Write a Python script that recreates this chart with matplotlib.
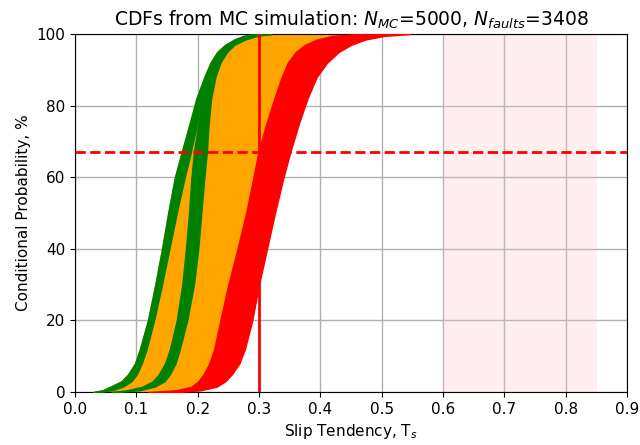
import matplotlib
matplotlib.use('Agg')
import matplotlib.pyplot as plt

levels = [0, 0.5, 1.5, 3, 5, 8, 12, 20, 30, 40, 50, 60, 67, 75, 82, 88, 92, 95, 97, 98.5, 99.5, 100]

# slip tendency of each envelope edge at those levels
green1_lo = [0.030, 0.045, 0.058, 0.076, 0.087, 0.098, 0.106, 0.119, 0.131, 0.142, 0.152,
             0.163, 0.174, 0.187, 0.198, 0.211, 0.221, 0.232, 0.245, 0.260, 0.275, 0.290]
green1_hi = [0.040, 0.060, 0.078, 0.092, 0.101, 0.109, 0.117, 0.129, 0.142, 0.154, 0.166,
             0.179, 0.189, 0.199, 0.207, 0.216, 0.226, 0.238, 0.250, 0.266, 0.282, 0.300]
green2_lo = [0.060, 0.085, 0.110, 0.127, 0.137, 0.147, 0.155, 0.166, 0.175, 0.181, 0.186,
             0.190, 0.194, 0.201, 0.208, 0.218, 0.227, 0.238, 0.250, 0.266, 0.284, 0.305]
green2_hi = [0.070, 0.105, 0.130, 0.146, 0.155, 0.164, 0.171, 0.183, 0.194, 0.201, 0.206,
             0.211, 0.215, 0.218, 0.222, 0.229, 0.237, 0.248, 0.260, 0.278, 0.298, 0.320]
red_lo = [0.120, 0.165, 0.190, 0.201, 0.210, 0.219, 0.227, 0.237, 0.250, 0.265, 0.279,
          0.291, 0.299, 0.312, 0.325, 0.337, 0.347, 0.360, 0.375, 0.395, 0.420, 0.460]
red_hi = [0.170, 0.205, 0.231, 0.245, 0.256, 0.268, 0.277, 0.289, 0.300, 0.313, 0.326,
          0.340, 0.351, 0.365, 0.379, 0.394, 0.411, 0.430, 0.450, 0.474, 0.505, 0.546]

n_mc = 5000
n_faults = 3408
ts_threshold = 0.3
prob_threshold = 67
span_lo, span_hi = 0.6, 0.85

fig = plt.figure(figsize=(6.4, 4.45), dpi=100)
ax = fig.add_axes([0.117, 0.119, 0.863, 0.8045])

ax.axvspan(span_lo, span_hi, color='pink', alpha=0.25, lw=0, zorder=1)

# envelopes of the MC CDF bundles
ax.fill_betweenx(levels, green1_lo, red_lo, color='orange', lw=1, zorder=2)
ax.fill_betweenx(levels, red_lo, red_hi, color='red', lw=1, zorder=3)
ax.fill_betweenx(levels, green1_lo, green1_hi, color='green', lw=1, zorder=4)
ax.fill_betweenx(levels, green2_lo, green2_hi, color='green', lw=1, zorder=4)

ax.plot([ts_threshold, ts_threshold], [0, 100], color='red', lw=2, zorder=5)
ax.axhline(prob_threshold, color='red', ls='--', lw=2, zorder=5)

ax.set_xlim(0, 0.9)
ax.set_ylim(0, 100)
ax.set_xticks([i / 10 for i in range(10)])
ax.set_yticks(range(0, 101, 20))
ax.grid(True, color='#b0b0b0', lw=1, zorder=0)
ax.set_axisbelow(True)
ax.tick_params(labelsize=11)

ax.set_xlabel('Slip Tendency, T$_s$', fontsize=11)
ax.set_ylabel('Conditional Probability, %', fontsize=11)
ax.set_title('CDFs from MC simulation: $N_{MC}$=%d, $N_{faults}$=%d' % (n_mc, n_faults), fontsize=13.5)

fig.savefig('out.png', dpi=100)
